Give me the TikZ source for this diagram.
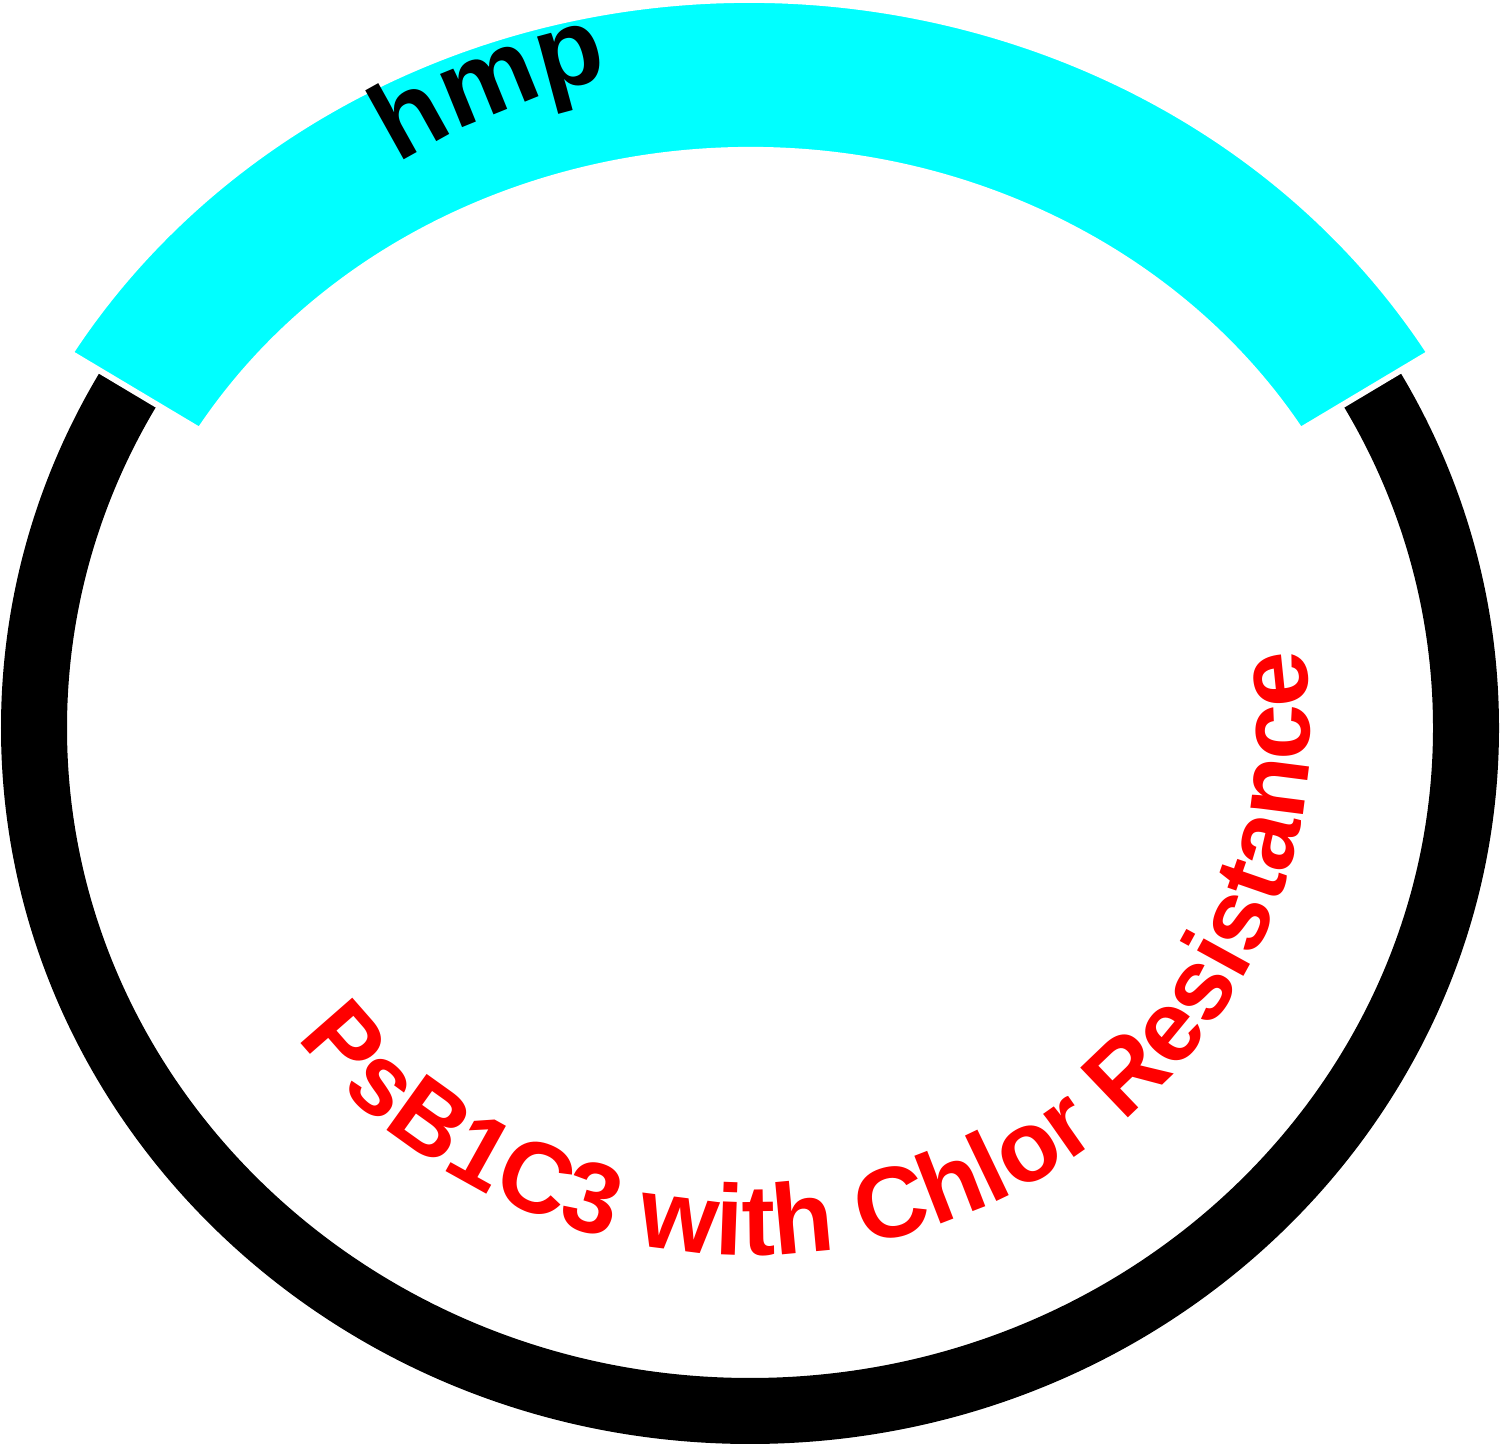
\documentclass[tikz,border=0pt]{standalone}
\usepackage{fontspec}
\setsansfont{Liberation Sans}
\usetikzlibrary{calc,decorations.text}
\definecolor{hmpcyan}{RGB}{0,255,255}
\definecolor{chlorred}{RGB}{255,0,0}

\begin{document}
\begin{tikzpicture}[
  backbone/.style={draw=black, line width=0.66cm},
  insert/.style={fill=hmpcyan, draw=white, line width=0.06cm},
  arclabel/.style={decorate, decoration={text along path, text align=left}}
]
  \useasboundingbox (0,0) rectangle (15.01,14.44);
  \coordinate (c) at (7.5,7.16);
  % plasmid backbone
  \draw[backbone] (c) ellipse [x radius=7.16, y radius=6.83];
  % hmp insert
  \path[insert] ($(c)+(31:7.93 and 7.28)$)
    arc [start angle=31, end angle=149, x radius=7.93, y radius=7.28]
    -- ($(c)+(149:6.42 and 5.78)$)
    arc [start angle=149, end angle=31, x radius=6.42, y radius=5.78] -- cycle;
  % labels
  \path[arclabel, decoration={text={|\sffamily\bfseries\fontsize{31}{31}\selectfont\color{black}|hmp}}]
    ($(c)+(122:6.65)$) arc [start angle=122, end angle=90, radius=6.65];
  \path[arclabel, decoration={text={|\sffamily\bfseries\fontsize{28.5}{28.5}\selectfont\color{chlorred}|PsB1C3 with Chlor Resistance}}]
    ($(c)+(216:5.6 and 5.27)$) arc [start angle=216, end angle=370, x radius=5.6, y radius=5.27];
\end{tikzpicture}
\end{document}
